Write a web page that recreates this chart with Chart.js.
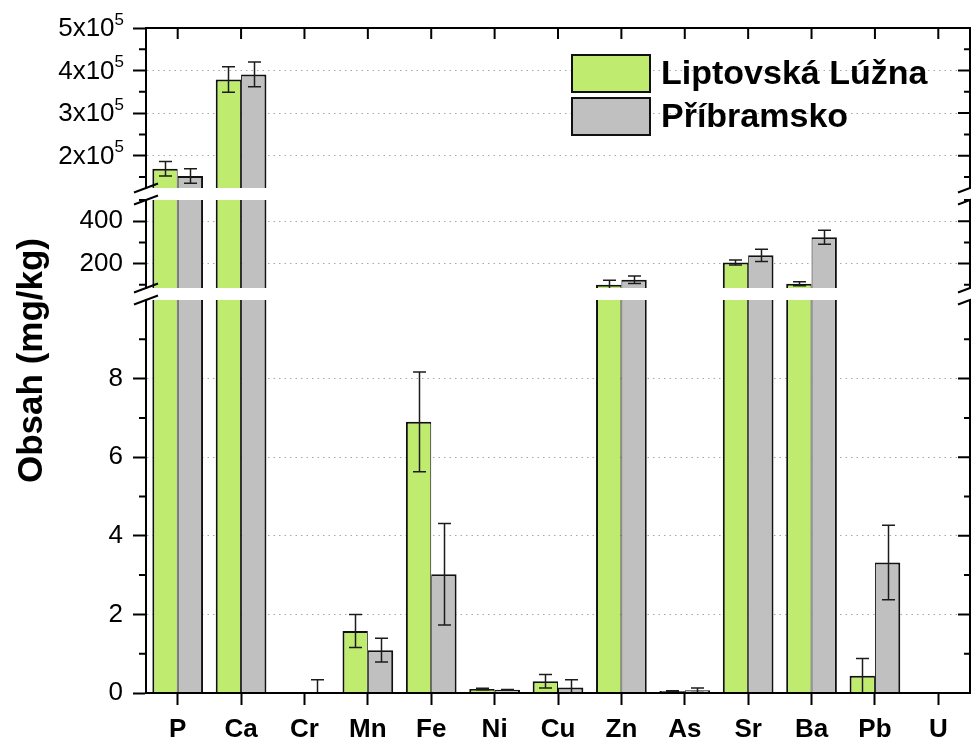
<!DOCTYPE html>
<html>
<head>
<meta charset="utf-8">
<title>Obsah prvkov</title>
<script src="https://cdn.jsdelivr.net/npm/chart.js@4"></script>
<style>
  html, body { margin: 0; padding: 0; background: #ffffff; }
  canvas { display: block; }
</style>
</head>
<body>
<canvas id="chart" width="971" height="737"></canvas>
<script>
// ---- data (mg/kg) ----
const elements = ['P', 'Ca', 'Cr', 'Mn', 'Fe', 'Ni', 'Cu', 'Zn', 'As', 'Sr', 'Ba', 'Pb', 'U'];
const liptovskaLuzna    = [169000, 379000, 0,    1.58, 6.90, 0.10, 0.30, 100, 0.05, 205, 105, 0.44, 0];
const liptovskaLuznaErr = [17000,  30000,  0,    0.42, 1.27, 0.02, 0.17, 21,  0.01, 12,  9,   0.44, 0];
const pribramsko        = [152000, 391000, 0,    1.09, 3.02, 0.08, 0.14, 124, 0.07, 239, 324, 3.32, 0];
const pribramskoErr     = [17000,  29000,  0.34, 0.30, 1.29, 0.01, 0.20, 18,  0.06, 29,  33,  0.95, 0];
const seriesNames = ['Liptovská Lúžna', 'Příbramsko'];

// ---- broken value axis: three segments ----
const lowRange  = [0, 10];
const lowMajor  = [0, 2, 4, 6, 8];
const lowMinor  = [1, 3, 5, 7, 9];
const midRange  = [85, 500];
const midMajor  = [200, 400];
const midMinor  = [100, 300, 500];
const highRange = [124000, 500000];
const highMajor = [200000, 300000, 400000, 500000];
const highMinor = [150000, 250000, 350000, 450000];

const seriesValues = [liptovskaLuzna, pribramsko];
const seriesErrors = [liptovskaLuznaErr, pribramskoErr];
const seriesColors = ['#bfec6f', '#c0c0c0'];
const seriesBorders = [
  { top: 2, left: 2, right: 1, bottom: 0 },
  { top: 2, left: 1, right: 2, bottom: 0 }
];

const FONT = "'Liberation Sans', Arial, Helvetica, sans-serif";
Chart.defaults.font.family = FONT;
Chart.defaults.color = '#000';

const segments = [
  { id: 'yLow',  range: lowRange,  major: lowMajor,  minor: lowMinor,  weight: 393 },
  { id: 'yMid',  range: midRange,  major: midMajor,  minor: midMinor,  weight: 88 },
  { id: 'yHigh', range: highRange, major: highMajor, minor: highMinor, weight: 160 }
];

// one bar dataset per series per segment; each is clipped to its own segment
const datasets = [];
const datasetSeries = [];
segments.forEach(seg => {
  seriesValues.forEach((vals, s) => {
    datasets.push({
      label: seriesNames[s],
      data: vals,
      yAxisID: seg.id,
      stack: 'g' + s,
      backgroundColor: seriesColors[s],
      borderColor: '#111',
      borderWidth: seriesBorders[s],
      borderSkipped: 'start',
      categoryPercentage: 0.8,
      barPercentage: 1.0,
      clip: 0
    });
    datasetSeries.push(s);
  });
});

function segmentScale(seg, isHigh) {
  return {
    type: 'linear',
    position: 'left',
    stack: 'v',
    stackWeight: seg.weight,
    min: seg.range[0],
    max: seg.range[1],
    stacked: false,
    afterBuildTicks: scale => { scale.ticks = seg.major.map(v => ({ value: v })); },
    afterFit: scale => { scale.width = 146; },
    grid: {
      display: true,
      drawOnChartArea: true,
      drawTicks: true,
      tickLength: 13,
      tickWidth: 2,
      tickColor: '#000',
      tickBorderDash: [],
      color: '#a8a8a8',
      lineWidth: 1
    },
    border: { display: true, color: '#000', width: 2, dash: [1.5, 4] },
    ticks: {
      autoSkip: false,
      padding: 10,
      color: '#000',
      font: { size: 26, family: FONT },
      callback: v => isHigh ? '' : String(v)
    }
  };
}

function gapScale(weight) {
  return {
    type: 'linear',
    position: 'left',
    stack: 'v',
    stackWeight: weight,
    min: 0,
    max: 1,
    afterFit: scale => { scale.width = 146; },
    grid: { display: false },
    border: { display: false },
    ticks: { display: false }
  };
}

// frame, minor/mirrored ticks, axis breaks, error bars, labels and legend
const decorations = {
  id: 'decorations',
  afterDatasetsDraw(chart) {
    const ctx = chart.ctx;
    const area = chart.chartArea;
    chart.data.datasets.forEach((ds, d) => {
      const meta = chart.getDatasetMeta(d);
      const ys = chart.scales[meta.yAxisID];
      const errs = seriesErrors[datasetSeries[d]];
      ctx.save();
      ctx.beginPath();
      ctx.rect(area.left, ys.top, area.right - area.left, ys.bottom - ys.top);
      ctx.clip();
      ctx.strokeStyle = '#1c1c1c';
      ctx.lineWidth = 1.5;
      meta.data.forEach((el, i) => {
        const v = ds.data[i];
        const e = errs[i];
        if (v == null || !e) return;
        const x = Math.round(el.x) + 0.5;
        const y1 = ys.getPixelForValue(v + e);
        const y2 = ys.getPixelForValue(v - e);
        ctx.beginPath();
        ctx.moveTo(x, y1); ctx.lineTo(x, y2);
        ctx.moveTo(x - 6.5, y1); ctx.lineTo(x + 6.5, y1);
        ctx.moveTo(x - 6.5, y2); ctx.lineTo(x + 6.5, y2);
        ctx.stroke();
      });
      ctx.restore();
    });
  },
  afterDraw(chart) {
    const ctx = chart.ctx;
    const area = chart.chartArea;
    const xs = chart.scales.x;
    ctx.save();
    ctx.strokeStyle = '#000';
    ctx.fillStyle = '#000';
    ctx.lineWidth = 2;

    // top frame line with inward ticks
    ctx.beginPath();
    ctx.moveTo(area.left - 1, area.top);
    ctx.lineTo(area.right + 1, area.top);
    elements.forEach((c, i) => {
      const x = xs.getPixelForValue(i);
      ctx.moveTo(x, area.top);
      ctx.lineTo(x, area.top + 11);
    });
    ctx.stroke();

    // right frame per segment, mirrored ticks, left minor ticks
    segments.forEach(seg => {
      const ys = chart.scales[seg.id];
      ctx.beginPath();
      ctx.moveTo(area.right, ys.top);
      ctx.lineTo(area.right, ys.bottom);
      seg.major.forEach(v => {
        const y = ys.getPixelForValue(v);
        ctx.moveTo(area.right, y); ctx.lineTo(area.right - 12, y);
      });
      seg.minor.forEach(v => {
        if (v < seg.range[0] || v > seg.range[1]) return;
        const y = ys.getPixelForValue(v);
        ctx.moveTo(area.right, y); ctx.lineTo(area.right - 6, y);
        ctx.moveTo(area.left, y); ctx.lineTo(area.left - 7, y);
      });
      ctx.stroke();
    });

    // axis break marks
    const breaks = [];
    for (let k = 1; k < segments.length; k++) {
      const lower = chart.scales[segments[k - 1].id];
      const upper = chart.scales[segments[k].id];
      breaks.push(upper.bottom, lower.top);
    }
    ctx.beginPath();
    breaks.forEach(y => {
      [area.left, area.right].forEach(x => {
        ctx.moveTo(x - 12, y + 4.5);
        ctx.lineTo(x + 12, y - 4.5);
      });
    });
    ctx.stroke();

    // exponent labels on the upper segment
    const hs = chart.scales.yHigh;
    const supFont = '17px ' + FONT;
    const mainFont = '26px ' + FONT;
    ctx.textBaseline = 'middle';
    ctx.textAlign = 'left';
    highMajor.forEach(v => {
      const y = hs.getPixelForValue(v);
      const exp = Math.floor(Math.log10(v));
      const mant = Math.round(v / Math.pow(10, exp));
      const main = mant + 'x10';
      const sup = String(exp);
      ctx.font = supFont;
      const supW = ctx.measureText(sup).width;
      ctx.font = mainFont;
      const mainW = ctx.measureText(main).width;
      const right = area.left - 13 - 9;
      ctx.fillText(main, right - supW - mainW, y + 1);
      ctx.font = supFont;
      ctx.fillText(sup, right - supW, y - 8);
    });

    // value-axis title
    ctx.save();
    ctx.translate(32, (area.top + area.bottom) / 2);
    ctx.rotate(-Math.PI / 2);
    ctx.font = 'bold 35px ' + FONT;
    ctx.textAlign = 'center';
    ctx.textBaseline = 'middle';
    ctx.fillText('Obsah (mg/kg)', 0, 0);
    ctx.restore();

    // legend
    const lx = 572, ly = [55, 98], bw = 78, bh = 37;
    ctx.font = 'bold 34px ' + FONT;
    ctx.textAlign = 'left';
    ctx.textBaseline = 'middle';
    seriesNames.forEach((name, s) => {
      ctx.fillStyle = seriesColors[s];
      ctx.fillRect(lx, ly[s], bw, bh);
      ctx.strokeStyle = '#111';
      ctx.lineWidth = 2;
      ctx.strokeRect(lx, ly[s], bw, bh);
      ctx.fillStyle = '#000';
      ctx.fillText(name, 661, ly[s] + bh / 2 + 1);
    });
    ctx.restore();
  }
};

new Chart(document.getElementById('chart'), {
  type: 'bar',
  data: { labels: elements, datasets: datasets },
  options: {
    responsive: false,
    animation: false,
    devicePixelRatio: 1,
    layout: { padding: { left: 0, right: 1, top: 28, bottom: 0 } },
    plugins: { legend: { display: false }, tooltip: { enabled: false } },
    scales: {
      x: {
        type: 'category',
        position: 'bottom',
        offset: true,
        afterFit: scale => { scale.height = 44; },
        grid: {
          display: true,
          drawOnChartArea: false,
          offset: false,
          tickLength: 12,
          tickWidth: 2,
          tickColor: '#000'
        },
        border: { display: true, color: '#000', width: 2, z: 1 },
        ticks: {
          autoSkip: false,
          maxRotation: 0,
          padding: 9,
          color: '#000',
          font: { size: 26, weight: 'bold', family: FONT }
        }
      },
      yLow: segmentScale(segments[0], false),
      gapLow: gapScale(12),
      yMid: segmentScale(segments[1], false),
      gapHigh: gapScale(12),
      yHigh: segmentScale(segments[2], true)
    }
  },
  plugins: [decorations]
});
</script>
</body>
</html>
